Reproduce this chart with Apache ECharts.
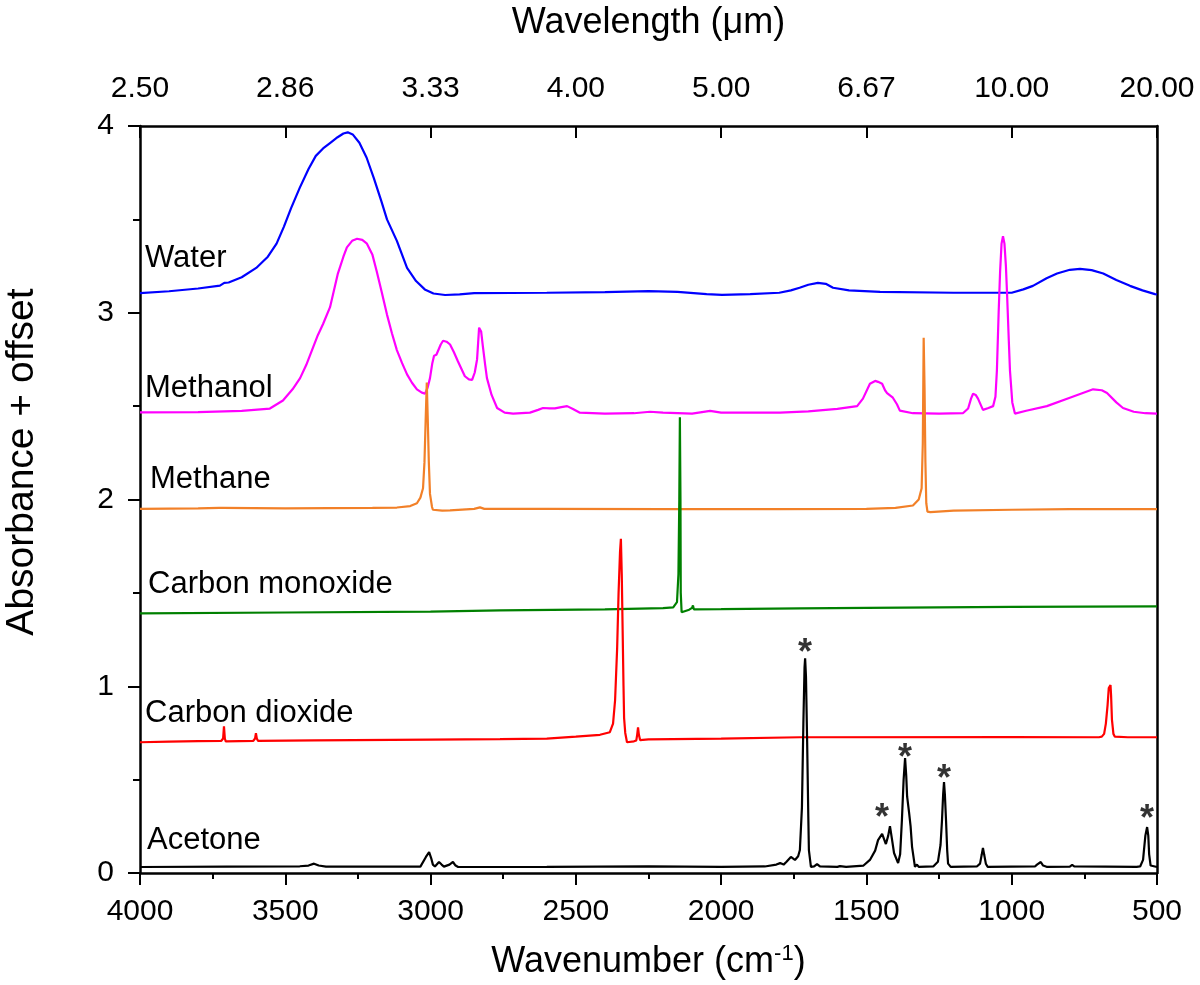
<!DOCTYPE html>
<html>
<head>
<meta charset="utf-8">
<title>IR spectra</title>
<script src="https://cdn.jsdelivr.net/npm/echarts@6/dist/echarts.min.js"></script>
<style>
  html, body { margin: 0; padding: 0; background: #fff; }
  #main { width: 1200px; height: 985px; }
</style>
</head>
<body>
<div id="main"></div>
<script>
// spectra, [wavenumber (cm-1), absorbance + offset]
var water = [
  [4000, 3.105], [3900, 3.115], [3800, 3.13], [3725, 3.145], [3710, 3.16], [3695, 3.162], [3650, 3.19],
  [3600, 3.24], [3560, 3.30], [3530, 3.37], [3505, 3.46], [3480, 3.56], [3450, 3.67], [3420, 3.77],
  [3395, 3.84], [3370, 3.88], [3345, 3.91], [3320, 3.94], [3300, 3.96], [3285, 3.966], [3268, 3.955],
  [3245, 3.91], [3220, 3.83], [3195, 3.72], [3170, 3.60], [3150, 3.50], [3116, 3.385], [3081, 3.24],
  [3050, 3.17], [3020, 3.125], [2990, 3.103], [2950, 3.095], [2900, 3.098], [2850, 3.105], [2600, 3.107],
  [2400, 3.11], [2250, 3.116], [2150, 3.112], [2050, 3.10], [1997, 3.096], [1900, 3.1], [1800, 3.107],
  [1760, 3.12], [1730, 3.134], [1700, 3.15], [1667, 3.16], [1640, 3.155], [1615, 3.134], [1560, 3.12],
  [1453, 3.112], [1200, 3.107], [1000, 3.107], [960, 3.125], [927, 3.144], [880, 3.185], [844, 3.21],
  [800, 3.23], [765, 3.235], [725, 3.228], [685, 3.21], [640, 3.175], [593, 3.144], [550, 3.12],
  [507, 3.10], [500, 3.098]
];
var methanol = [
  [4000, 2.466], [3800, 2.468], [3650, 2.475], [3553, 2.487], [3508, 2.53], [3475, 2.59], [3449, 2.65],
  [3428, 2.72], [3408, 2.80], [3388, 2.88], [3370, 2.94], [3346, 3.03], [3319, 3.21], [3300, 3.30],
  [3288, 3.35], [3270, 3.385], [3253, 3.396], [3235, 3.39], [3219, 3.37], [3200, 3.31], [3185, 3.22],
  [3168, 3.11], [3150, 2.99], [3133, 2.89], [3116, 2.80], [3098, 2.73], [3081, 2.67], [3064, 2.625],
  [3047, 2.59], [3030, 2.572], [3019, 2.567], [3010, 2.60], [3002, 2.65], [2994, 2.73], [2988, 2.77],
  [2980, 2.775], [2974, 2.78], [2965, 2.83], [2957, 2.85], [2945, 2.845], [2933, 2.83], [2920, 2.79],
  [2906, 2.74], [2894, 2.70], [2882, 2.66], [2868, 2.643], [2857, 2.64], [2848, 2.68], [2840, 2.75],
  [2833, 2.92], [2826, 2.90], [2820, 2.82], [2812, 2.72], [2806, 2.65], [2790, 2.56], [2771, 2.49],
  [2745, 2.465], [2716, 2.46], [2658, 2.465], [2630, 2.48], [2613, 2.49], [2590, 2.488], [2572, 2.488],
  [2550, 2.495], [2530, 2.50], [2510, 2.485], [2486, 2.465], [2400, 2.46], [2300, 2.462], [2245, 2.47],
  [2200, 2.465], [2100, 2.46], [2038, 2.475], [2000, 2.465], [1900, 2.465], [1797, 2.465], [1700, 2.472],
  [1600, 2.485], [1532, 2.50], [1512, 2.54], [1488, 2.62], [1470, 2.635], [1460, 2.63], [1446, 2.62],
  [1436, 2.585], [1429, 2.57], [1409, 2.545], [1395, 2.51], [1385, 2.476], [1340, 2.462], [1250, 2.46],
  [1168, 2.462], [1150, 2.487], [1140, 2.54], [1133, 2.566], [1124, 2.56], [1116, 2.54], [1099, 2.48],
  [1080, 2.49], [1064, 2.50], [1056, 2.55], [1051, 2.69], [1045, 3.0], [1040, 3.22], [1035, 3.37],
  [1030, 3.41], [1025, 3.37], [1020, 3.25], [1016, 3.1], [1010, 2.85], [1006, 2.69], [998, 2.52],
  [989, 2.46], [950, 2.475], [879, 2.50], [800, 2.545], [720, 2.59], [690, 2.585], [672, 2.57],
  [640, 2.52], [617, 2.49], [580, 2.47], [540, 2.462], [500, 2.46]
];
var methane = [
  [4000, 1.95], [3800, 1.952], [3727, 1.955], [3722, 1.965], [3717, 1.955], [3500, 1.953], [3200, 1.955],
  [3116, 1.957], [3070, 1.965], [3047, 1.98], [3035, 2.01], [3026, 2.06], [3021, 2.2], [3017, 2.42],
  [3013, 2.626], [3010, 2.45], [3006, 2.2], [3002, 2.03], [2995, 1.96], [2992, 1.945], [2960, 1.94],
  [2933, 1.942], [2850, 1.95], [2830, 1.958], [2815, 1.95], [2600, 1.95], [2200, 1.948], [1800, 1.948],
  [1500, 1.95], [1400, 1.955], [1340, 1.968], [1320, 2.0], [1310, 2.06], [1306, 2.3], [1303, 2.866],
  [1300, 2.6], [1297, 2.2], [1294, 1.98], [1290, 1.935], [1280, 1.932], [1200, 1.94], [1000, 1.945],
  [800, 1.948], [500, 1.948]
];
var carbonMonoxide = [
  [4000, 1.39], [3500, 1.395], [3000, 1.40], [2761, 1.406], [2400, 1.412], [2200, 1.418], [2165, 1.422],
  [2152, 1.45], [2147, 1.6], [2144, 2.0], [2142, 2.44], [2140, 2.0], [2139, 1.5], [2136, 1.396],
  [2130, 1.405], [2110, 1.41], [2100, 1.42], [2097, 1.433], [2094, 1.412], [2000, 1.413], [1729, 1.417],
  [1500, 1.42], [1000, 1.425], [500, 1.428]
];
var carbonDioxide = [
  [4000, 0.70], [3900, 0.703], [3800, 0.706], [3720, 0.708], [3714, 0.72], [3711, 0.786], [3708, 0.72],
  [3705, 0.705], [3610, 0.708], [3604, 0.72], [3601, 0.749], [3598, 0.72], [3594, 0.708], [3400, 0.71],
  [3000, 0.714], [2761, 0.717], [2600, 0.72], [2500, 0.73], [2417, 0.74], [2383, 0.754], [2372, 0.8],
  [2365, 0.925], [2358, 1.2], [2353, 1.5], [2348, 1.72], [2345, 1.79], [2342, 1.6], [2339, 1.3],
  [2336, 1.0], [2334, 0.83], [2330, 0.75], [2324, 0.70], [2300, 0.705], [2292, 0.71], [2289, 0.74],
  [2286, 0.78], [2283, 0.74], [2279, 0.712], [2250, 0.716], [2000, 0.72], [1729, 0.727], [1000, 0.728],
  [700, 0.727], [690, 0.73], [682, 0.745], [676, 0.8], [670, 0.9], [666, 0.99], [664, 1.0], [662, 0.985],
  [660, 1.007], [658, 0.95], [655, 0.82], [650, 0.745], [645, 0.73], [600, 0.727], [500, 0.727]
];
var acetone = [
  [4000, 0.032], [3700, 0.034], [3450, 0.036], [3420, 0.04], [3401, 0.05], [3385, 0.04], [3360, 0.034],
  [3100, 0.034], [3035, 0.034], [3016, 0.086], [3005, 0.112], [2998, 0.08], [2992, 0.045], [2985, 0.035],
  [2971, 0.059], [2962, 0.045], [2954, 0.034], [2935, 0.045], [2923, 0.059], [2914, 0.04], [2905, 0.032],
  [2600, 0.033], [2250, 0.036], [2000, 0.033], [1850, 0.035], [1810, 0.045], [1797, 0.053], [1785, 0.045],
  [1775, 0.06], [1760, 0.086], [1746, 0.07], [1735, 0.09], [1729, 0.123], [1722, 0.35], [1717, 0.8],
  [1713, 1.1], [1711, 1.15], [1708, 1.05], [1704, 0.7], [1700, 0.3], [1698, 0.123], [1691, 0.033],
  [1680, 0.035], [1670, 0.048], [1660, 0.035], [1600, 0.033], [1591, 0.037], [1570, 0.033], [1510, 0.04],
  [1488, 0.07], [1470, 0.12], [1460, 0.176], [1446, 0.209], [1433, 0.155], [1425, 0.2], [1419, 0.251],
  [1412, 0.18], [1405, 0.107], [1391, 0.053], [1384, 0.1], [1378, 0.28], [1372, 0.5], [1367, 0.615],
  [1363, 0.52], [1360, 0.41], [1353, 0.32], [1348, 0.25], [1343, 0.14], [1333, 0.033], [1326, 0.045],
  [1320, 0.033], [1270, 0.035], [1254, 0.06], [1245, 0.15], [1240, 0.28], [1236, 0.42], [1233, 0.487],
  [1230, 0.42], [1226, 0.28], [1222, 0.12], [1219, 0.05], [1210, 0.033], [1120, 0.035], [1109, 0.05],
  [1103, 0.1], [1099, 0.134], [1095, 0.1], [1089, 0.05], [1083, 0.033], [920, 0.035], [913, 0.045],
  [900, 0.059], [892, 0.04], [880, 0.033], [800, 0.034], [792, 0.043], [785, 0.035], [570, 0.033],
  [558, 0.035], [548, 0.07], [545, 0.12], [540, 0.2], [534, 0.246], [530, 0.2], [527, 0.1], [522, 0.04],
  [517, 0.032], [500, 0.032]
];
// asterisks over the acetone bands
var acetoneMarks = [[1711, 1.21], [1446, 0.326], [1367, 0.647], [1233, 0.535], [534, 0.32]];

var names = ['Water', 'Methanol', 'Methane', 'Carbon monoxide', 'Carbon dioxide', 'Acetone'];
var colors = ['#0000ff', '#ff00ff', '#f28028', '#008000', '#ff0000', '#000000'];
var spectra = [water, methanol, methane, carbonMonoxide, carbonDioxide, acetone];
// where each name sits (left edge, text middle) in px
var labelPos = [[145, 258], [145, 388], [150, 479], [148, 584], [145, 713], [147, 840]];

var xTicks = [500, 4000, 500];   // min, max, step
var yTicks = [0, 4, 1];

var FONT = '"Liberation Sans", Arial, sans-serif';

var myChart = echarts.init(document.getElementById('main'));

var series = spectra.map(function (d, i) {
  return {
    name: names[i],
    type: 'line',
    data: d,
    showSymbol: false,
    symbol: 'none',
    silent: true,
    lineStyle: {color: colors[i], width: 2.2},
    z: 2 + i
  };
});
series.push({
  type: 'scatter',
  data: acetoneMarks,
  symbolSize: 0,
  silent: true,
  itemStyle: {color: '#000'},
  label: {
    show: true, position: 'inside', formatter: '*', offset: [0, 7],
    fontSize: 36, fontWeight: 'bold', fontFamily: FONT, color: '#000'
  }
});

var graphics = names.map(function (n, i) {
  return {
    type: 'text', x: labelPos[i][0], y: labelPos[i][1],
    style: {text: n, fontSize: 31, fontFamily: FONT, fill: '#000', verticalAlign: 'middle'}
  };
});
graphics.push({
  type: 'text', x: 22, y: 462, rotation: Math.PI / 2,
  style: {text: 'Absorbance + offset', fontSize: 39, fontFamily: FONT, fill: '#000', align: 'center', verticalAlign: 'middle'}
});

var axisLine = {show: true, onZero: false, lineStyle: {color: '#000', width: 2.5}};
var plain = function (v) { return String(v); };

var option = {
  animation: false,
  backgroundColor: '#fff',
  grid: {left: 140, right: 43, top: 125, bottom: 112, containLabel: false},
  xAxis: [{
    type: 'value', position: 'bottom', inverse: true,
    min: xTicks[0], max: xTicks[1], interval: xTicks[2],
    axisLine: axisLine,
    axisTick: {show: true, inside: false, length: 12, lineStyle: {color: '#000', width: 2}},
    minorTick: {show: true, splitNumber: 2, length: 6, lineStyle: {color: '#000', width: 2}},
    axisLabel: {fontSize: 30, fontFamily: FONT, color: '#000', margin: 24, formatter: plain},
    splitLine: {show: false},
    name: 'Wavenumber (cm{sup|-1})', nameLocation: 'middle', nameGap: 70,
    nameTextStyle: {
      fontSize: 36, fontFamily: FONT, color: '#000',
      rich: {sup: {fontSize: 22, fontFamily: FONT, color: '#000', verticalAlign: 'top', padding: [0, 0, 16, 0]}}
    }
  }, {
    type: 'value', position: 'top', inverse: true,
    min: xTicks[0], max: xTicks[1], interval: xTicks[2],
    axisLine: axisLine,
    axisTick: {show: true, inside: true, length: 12, lineStyle: {color: '#000', width: 2}},
    axisLabel: {
      fontSize: 30, fontFamily: FONT, color: '#000', margin: 22,
      formatter: function (v) { return (10000 / v).toFixed(2); }
    },
    splitLine: {show: false},
    name: 'Wavelength (\u03bcm)', nameLocation: 'middle', nameGap: 85,
    nameTextStyle: {fontSize: 36, fontFamily: FONT, color: '#000'}
  }],
  yAxis: [{
    type: 'value', position: 'left',
    min: yTicks[0], max: yTicks[1], interval: yTicks[2],
    axisLine: axisLine,
    axisTick: {show: true, inside: false, length: 12, lineStyle: {color: '#000', width: 2}},
    minorTick: {show: true, splitNumber: 2, length: 7, lineStyle: {color: '#000', width: 2}},
    axisLabel: {fontSize: 30, fontFamily: FONT, color: '#000', margin: 26, formatter: plain},
    splitLine: {show: false}
  }, {
    type: 'value', position: 'right',
    min: yTicks[0], max: yTicks[1],
    axisLine: axisLine,
    axisTick: {show: false}, axisLabel: {show: false}, splitLine: {show: false}
  }],
  graphic: graphics,
  series: series
};

myChart.setOption(option);
</script>
</body>
</html>
